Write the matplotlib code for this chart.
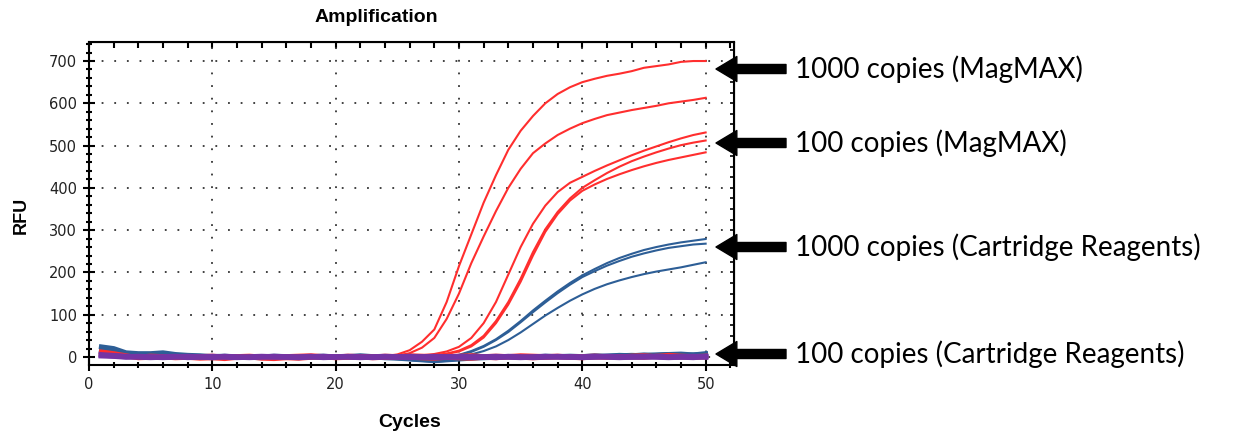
import matplotlib
matplotlib.use("Agg")
import matplotlib.pyplot as plt
from matplotlib.ticker import MultipleLocator

cycles = list(range(1, 51))

# MagMAX extractions (red)
magmax_1000 = [
    [10, 6, 2, 1, 0, -1, 1, 0, -2, -1, 0, 1, 0, -1, -2, 0, 1, 0, -1, 0, 1, 0, 1, 2, 6,
     16, 36, 65, 130, 215, 290, 365, 430, 490, 535, 570, 600, 622, 638, 650, 658, 665, 670,
     676, 684, 688, 692, 698, 700, 700],
    [8, 5, 2, 0, 1, 0, -1, 0, 1, 0, -1, 0, 1, 0, -1, 0, 0, 1, 0, -1, 0, 1, 0, 1, 3,
     9, 22, 45, 90, 150, 222, 285, 345, 400, 445, 482, 505, 525, 540, 553, 563, 572, 578,
     584, 589, 594, 600, 604, 608, 613],
]
magmax_100 = [
    [9, 5, 1, 0, -1, 0, 1, 0, -1, 0, 1, 0, 0, -1, 0, 1, 0, 0, 1, 0, -1, 0, 0, 1, 1,
     2, 4, 7, 13, 24, 45, 80, 130, 195, 260, 315, 358, 390, 412, 426, 440, 453, 465,
     477, 488, 498, 508, 517, 525, 531],
    [10, 6, 2, 1, 0, -1, 0, 1, 0, -1, 0, 1, 0, 0, -1, 0, 1, 0, -1, 0, 0, 1, 0, 0, 1,
     1, 2, 4, 8, 15, 28, 50, 85, 130, 185, 248, 302, 343, 375, 400, 418, 435, 450,
     463, 474, 484, 493, 501, 507, 512],
    [9, 5, 2, 0, 1, 0, -1, 0, 1, 0, -1, 0, 1, 0, 0, -1, 0, 1, 0, 0, -1, 0, 1, 0, 1,
     1, 2, 3, 7, 13, 25, 46, 80, 124, 178, 240, 296, 338, 370, 393, 408, 421, 432,
     442, 451, 459, 466, 472, 478, 484],
]

# cartridge reagents (blue)
cartridge_1000 = [
    [22, 18, 8, 6, 5, 6, 3, 2, 1, 0, 2, 1, 0, 1, 0, 2, 1, 0, 1, 0, 2, 1, 0, -1, -3,
     -6, -8, -7, -3, 5, 14, 26, 42, 62, 85, 110, 133, 155, 175, 193, 208, 222, 234,
     244, 253, 260, 266, 271, 275, 279],
    [20, 16, 7, 5, 6, 4, 2, 1, 2, 0, 1, 0, 1, 0, 1, 1, 0, 1, 0, 1, 0, 0, 1, -1, -2,
     -5, -7, -6, -2, 4, 12, 24, 40, 59, 82, 106, 129, 151, 171, 189, 203, 216, 227,
     237, 245, 252, 258, 262, 266, 268],
    [18, 14, 6, 5, 4, 5, 3, 1, 0, 1, 0, 1, 0, 0, 1, 0, 1, 0, 0, 1, 0, 1, 0, -2, -4,
     -7, -9, -8, -5, 0, 6, 14, 25, 40, 58, 78, 98, 116, 133, 148, 161, 172, 181,
     189, 196, 202, 207, 212, 218, 224],
]

# flat traces near zero
flat_red = [
    [12, 8, 3, -2, -1, 0, -2, -1, -3, -2, -4, -1, 0, -3, -4, -2, -3, -1, 0, -2, -1, 0, -2, -1, 0,
     -1, -2, -3, -1, -2, -3, -1, -2, 0, -1, -2, -1, 0, -1, -2, 0, -1, 1, 0, -1, 2, 1, 0, -1, 0],
    [6, 4, 1, 0, 2, 1, 0, -1, 1, 2, 0, 1, 2, 0, -1, 1, 2, 3, 1, 0, 2, 1, 0, 2, 1,
     3, 2, 1, 0, 2, 3, 1, 2, 1, 3, 2, 1, 2, 0, 1, 2, 1, 0, 2, 3, 1, 4, 2, 1, 2],
]
flat_blue = [
    [24, 20, 10, 8, 8, 10, 6, 4, 3, 1, 2, 0, 1, 0, 2, 1, 0, 1, 2, 0, 1, 3, 1, 0, -2,
     -4, -6, -8, -6, -4, -2, -1, 0, 1, 0, -1, 0, 1, 2, 1, 0, 2, 3, 4, 3, 5, 6, 4, 5, 6],
    [15, 10, 4, 2, 3, 1, 0, -1, 0, -2, -1, 0, -1, -2, 0, -1, -2, 0, -1, 1, 0, -1, 0, -2, -3,
     -5, -7, -9, -7, -5, -3, -2, -1, 0, 1, 0, 2, 1, 0, 1, 3, 2, 4, 3, 5, 4, 6, 7, 5, 8],
]
flat_purple = [
    [5, 3, 1, 0, -1, 0, 1, -1, 0, 1, 0, -1, 0, 1, 0, 0, -1, 0, 1, 0, 0, -1, 0, 1, 0,
     -1, 0, 1, 0, 0, -1, 0, 1, 0, -1, 0, 1, 0, 0, -1, 0, 1, 0, 0, 1, 0, -1, 0, 1, 0],
    [3, 2, 0, 1, 0, -1, 0, 1, 0, -1, 1, 0, -1, 0, 1, 0, 0, 1, -1, 0, 1, 0, -1, 0, 0,
     1, 0, -1, 0, 1, 0, 0, -1, 1, 0, -1, 0, 1, 0, 0, 1, 0, -1, 0, 0, 1, 0, 0, -1, 1],
]

labels = ["1000 copies (MagMAX)", "100 copies (MagMAX)",
          "1000 copies (Cartridge Reagents)", "100 copies (Cartridge Reagents)"]
label_y_px = [69, 143, 247, 354]   # vertical position of each callout, image pixels from top

RED = "#ff2e2e"
BLUE = "#2d5e96"
PURPLE = "#7434a4"

W, H = 1233, 436
fig = plt.figure(figsize=(W / 100, H / 100), dpi=100)
ax = fig.add_axes([89 / W, 1 - 365 / H, 645 / W, 323 / H])

for ys in cartridge_1000:
    ax.plot(cycles, ys, color=BLUE, lw=1.5)
for ys in magmax_1000 + magmax_100:
    ax.plot(cycles, ys, color=RED, lw=1.5)
for ys in flat_blue:
    ax.plot(cycles, ys, color=BLUE, lw=3.5)
for ys in flat_red:
    ax.plot(cycles, ys, color=RED, lw=3.5)
for ys in flat_purple:
    ax.plot(cycles, ys, color=PURPLE, lw=4)

ax.set_xlim(0, 52.3)
ax.set_ylim(-19, 745)
ax.xaxis.set_major_locator(MultipleLocator(10))
ax.xaxis.set_minor_locator(MultipleLocator(2))
ax.yaxis.set_major_locator(MultipleLocator(100))
ax.yaxis.set_minor_locator(MultipleLocator(20))
ax.grid(True, which="major", color="#333333", linestyle=(0, (1, 6)), lw=1.3)
ax.set_axisbelow(True)

for s in ax.spines.values():
    s.set_linewidth(1.5)
ax.tick_params(which="major", direction="inout", length=9, width=1.5,
               labelsize=10.5, labelcolor="#222222", pad=4)
ax.tick_params(which="minor", direction="inout", length=5, width=1.5)

top = ax.secondary_xaxis("top")
top.xaxis.set_major_locator(MultipleLocator(2))
top.tick_params(direction="in", length=4, width=1.5, labeltop=False)
right = ax.secondary_yaxis("right")
right.yaxis.set_major_locator(MultipleLocator(25))
right.tick_params(direction="in", length=3, width=1.2, labelright=False)

fig.text(376 / W, 1 - 18 / H, "Amplification", ha="center", va="center",
         fontsize=14, fontweight="bold", family="Liberation Sans")
fig.text(410 / W, 1 - 422 / H, "Cycles", ha="center", va="center",
         fontsize=14, fontweight="bold", family="Liberation Sans")
fig.text(21 / W, 1 - 215 / H, "RFU", ha="center", va="center", rotation=90,
         fontsize=13, fontweight="bold", family="Liberation Sans")

for lab, yp in zip(labels, label_y_px):
    y = H - yp
    fig.text(795 / W, y / H, lab, ha="left", va="center", fontsize=20, family="Lato")
    ax.annotate("", xy=(716, y), xytext=(786, y), xycoords="figure pixels",
                textcoords="figure pixels",
                arrowprops=dict(arrowstyle="simple,head_length=15,head_width=18,tail_width=6.5",
                                mutation_scale=1, color="black", shrinkA=0, shrinkB=0))

fig.savefig("out.png", dpi=100)
